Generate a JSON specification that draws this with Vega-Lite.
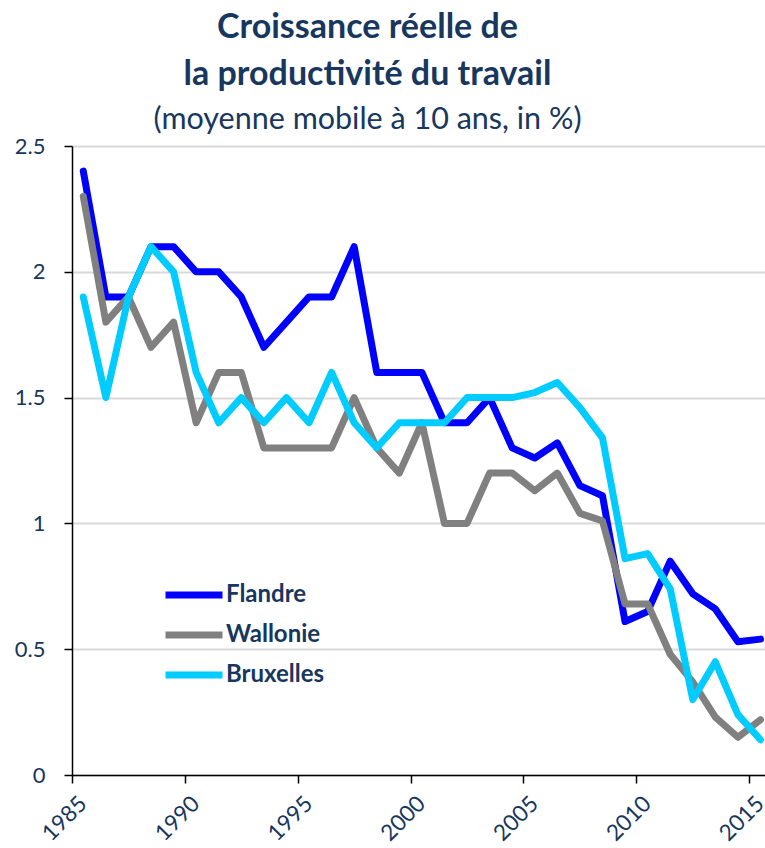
{
  "$schema": "https://vega.github.io/schema/vega-lite/v6.json",
  "autosize": "none",
  "width": 693,
  "height": 629,
  "padding": {"left": 72, "top": 146, "right": 0, "bottom": 73},
  "background": "white",
  "title": {
    "text": ["Croissance réelle de", "la productivité du travail"],
    "subtitle": "(moyenne mobile à 10 ans, in %)",
    "anchor": "middle",
    "frame": "group",
    "dx": -51,
    "offset": 0,
    "font": "Lato",
    "fontSize": 34,
    "fontWeight": "bold",
    "color": "#17375E",
    "lineHeight": 47,
    "subtitleFont": "Lato",
    "subtitleFontSize": 30.5,
    "subtitleColor": "#17375E",
    "subtitlePadding": 13
  },
  "data": {
    "values": [
      {"year": 1985, "region": "Flandre", "value": 2.40},
      {"year": 1986, "region": "Flandre", "value": 1.90},
      {"year": 1987, "region": "Flandre", "value": 1.90},
      {"year": 1988, "region": "Flandre", "value": 2.10},
      {"year": 1989, "region": "Flandre", "value": 2.10},
      {"year": 1990, "region": "Flandre", "value": 2.00},
      {"year": 1991, "region": "Flandre", "value": 2.00},
      {"year": 1992, "region": "Flandre", "value": 1.90},
      {"year": 1993, "region": "Flandre", "value": 1.70},
      {"year": 1994, "region": "Flandre", "value": 1.80},
      {"year": 1995, "region": "Flandre", "value": 1.90},
      {"year": 1996, "region": "Flandre", "value": 1.90},
      {"year": 1997, "region": "Flandre", "value": 2.10},
      {"year": 1998, "region": "Flandre", "value": 1.60},
      {"year": 1999, "region": "Flandre", "value": 1.60},
      {"year": 2000, "region": "Flandre", "value": 1.60},
      {"year": 2001, "region": "Flandre", "value": 1.40},
      {"year": 2002, "region": "Flandre", "value": 1.40},
      {"year": 2003, "region": "Flandre", "value": 1.50},
      {"year": 2004, "region": "Flandre", "value": 1.30},
      {"year": 2005, "region": "Flandre", "value": 1.26},
      {"year": 2006, "region": "Flandre", "value": 1.32},
      {"year": 2007, "region": "Flandre", "value": 1.15},
      {"year": 2008, "region": "Flandre", "value": 1.11},
      {"year": 2009, "region": "Flandre", "value": 0.61},
      {"year": 2010, "region": "Flandre", "value": 0.65},
      {"year": 2011, "region": "Flandre", "value": 0.85},
      {"year": 2012, "region": "Flandre", "value": 0.72},
      {"year": 2013, "region": "Flandre", "value": 0.66},
      {"year": 2014, "region": "Flandre", "value": 0.53},
      {"year": 2015, "region": "Flandre", "value": 0.54},
      {"year": 1985, "region": "Wallonie", "value": 2.30},
      {"year": 1986, "region": "Wallonie", "value": 1.80},
      {"year": 1987, "region": "Wallonie", "value": 1.90},
      {"year": 1988, "region": "Wallonie", "value": 1.70},
      {"year": 1989, "region": "Wallonie", "value": 1.80},
      {"year": 1990, "region": "Wallonie", "value": 1.40},
      {"year": 1991, "region": "Wallonie", "value": 1.60},
      {"year": 1992, "region": "Wallonie", "value": 1.60},
      {"year": 1993, "region": "Wallonie", "value": 1.30},
      {"year": 1994, "region": "Wallonie", "value": 1.30},
      {"year": 1995, "region": "Wallonie", "value": 1.30},
      {"year": 1996, "region": "Wallonie", "value": 1.30},
      {"year": 1997, "region": "Wallonie", "value": 1.50},
      {"year": 1998, "region": "Wallonie", "value": 1.30},
      {"year": 1999, "region": "Wallonie", "value": 1.20},
      {"year": 2000, "region": "Wallonie", "value": 1.40},
      {"year": 2001, "region": "Wallonie", "value": 1.00},
      {"year": 2002, "region": "Wallonie", "value": 1.00},
      {"year": 2003, "region": "Wallonie", "value": 1.20},
      {"year": 2004, "region": "Wallonie", "value": 1.20},
      {"year": 2005, "region": "Wallonie", "value": 1.13},
      {"year": 2006, "region": "Wallonie", "value": 1.20},
      {"year": 2007, "region": "Wallonie", "value": 1.04},
      {"year": 2008, "region": "Wallonie", "value": 1.01},
      {"year": 2009, "region": "Wallonie", "value": 0.68},
      {"year": 2010, "region": "Wallonie", "value": 0.68},
      {"year": 2011, "region": "Wallonie", "value": 0.48},
      {"year": 2012, "region": "Wallonie", "value": 0.37},
      {"year": 2013, "region": "Wallonie", "value": 0.23},
      {"year": 2014, "region": "Wallonie", "value": 0.15},
      {"year": 2015, "region": "Wallonie", "value": 0.22},
      {"year": 1985, "region": "Bruxelles", "value": 1.90},
      {"year": 1986, "region": "Bruxelles", "value": 1.50},
      {"year": 1987, "region": "Bruxelles", "value": 1.90},
      {"year": 1988, "region": "Bruxelles", "value": 2.10},
      {"year": 1989, "region": "Bruxelles", "value": 2.00},
      {"year": 1990, "region": "Bruxelles", "value": 1.60},
      {"year": 1991, "region": "Bruxelles", "value": 1.40},
      {"year": 1992, "region": "Bruxelles", "value": 1.50},
      {"year": 1993, "region": "Bruxelles", "value": 1.40},
      {"year": 1994, "region": "Bruxelles", "value": 1.50},
      {"year": 1995, "region": "Bruxelles", "value": 1.40},
      {"year": 1996, "region": "Bruxelles", "value": 1.60},
      {"year": 1997, "region": "Bruxelles", "value": 1.40},
      {"year": 1998, "region": "Bruxelles", "value": 1.30},
      {"year": 1999, "region": "Bruxelles", "value": 1.40},
      {"year": 2000, "region": "Bruxelles", "value": 1.40},
      {"year": 2001, "region": "Bruxelles", "value": 1.40},
      {"year": 2002, "region": "Bruxelles", "value": 1.50},
      {"year": 2003, "region": "Bruxelles", "value": 1.50},
      {"year": 2004, "region": "Bruxelles", "value": 1.50},
      {"year": 2005, "region": "Bruxelles", "value": 1.52},
      {"year": 2006, "region": "Bruxelles", "value": 1.56},
      {"year": 2007, "region": "Bruxelles", "value": 1.46},
      {"year": 2008, "region": "Bruxelles", "value": 1.34},
      {"year": 2009, "region": "Bruxelles", "value": 0.86},
      {"year": 2010, "region": "Bruxelles", "value": 0.88},
      {"year": 2011, "region": "Bruxelles", "value": 0.74},
      {"year": 2012, "region": "Bruxelles", "value": 0.30},
      {"year": 2013, "region": "Bruxelles", "value": 0.45},
      {"year": 2014, "region": "Bruxelles", "value": 0.24},
      {"year": 2015, "region": "Bruxelles", "value": 0.14}
    ]
  },
  "mark": {"type": "line", "strokeWidth": 7, "strokeCap": "round", "strokeJoin": "round", "clip": true},
  "encoding": {
    "x": {
      "field": "year",
      "type": "quantitative",
      "scale": {"domain": [1984.5, 2015.2], "nice": false, "zero": false},
      "axis": {
        "title": null,
        "values": [1984.5, 1989.5, 1994.5, 1999.5, 2004.5, 2009.5, 2014.5],
        "labelExpr": "format(datum.value + 0.5, 'd')",
        "grid": false,
        "labelAngle": -45,
        "labelAlign": "right",
        "labelBaseline": "top",
        "labelFont": "Lato",
        "labelFontSize": 22.5,
        "labelColor": "#17375E",
        "labelPadding": 9,
        "labelOffset": 3,
        "tickSize": 8,
        "tickColor": "#000000",
        "domainColor": "#000000",
        "domainWidth": 1.5,
        "tickWidth": 1.5,
        "labelFlush": false,
        "labelOverlap": false
      }
    },
    "y": {
      "field": "value",
      "type": "quantitative",
      "scale": {"domain": [0, 2.5], "nice": false},
      "axis": {
        "title": null,
        "values": [0, 0.5, 1, 1.5, 2, 2.5],
        "format": "~g",
        "labelFont": "Lato",
        "labelFontSize": 22,
        "labelColor": "#17375E",
        "labelPadding": 19,
        "tickSize": 8,
        "tickColor": "#000000",
        "tickWidth": 1.5,
        "domainColor": "#000000",
        "domainWidth": 1.5,
        "gridColor": "#D9D9D9",
        "gridWidth": 2,
        "labelFlush": false
      }
    },
    "color": {
      "field": "region",
      "type": "nominal",
      "sort": ["Flandre", "Wallonie", "Bruxelles"],
      "scale": {"domain": ["Flandre", "Wallonie", "Bruxelles"], "range": ["#0000FF", "#808080", "#00CCFF"]},
      "legend": {
        "title": null,
        "orient": "none",
        "legendX": 90,
        "legendY": 429,
        "symbolType": "stroke",
        "symbolSize": 3249,
        "symbolStrokeWidth": 7,
        "labelFont": "Lato",
        "labelFontSize": 24,
        "labelFontWeight": "bold",
        "labelColor": "#17375E",
        "labelOffset": 0,
        "rowPadding": 0,
        "clipHeight": 40,
        "labelLimit": 300
      }
    }
  },
  "config": {"view": {"stroke": null}}
}
